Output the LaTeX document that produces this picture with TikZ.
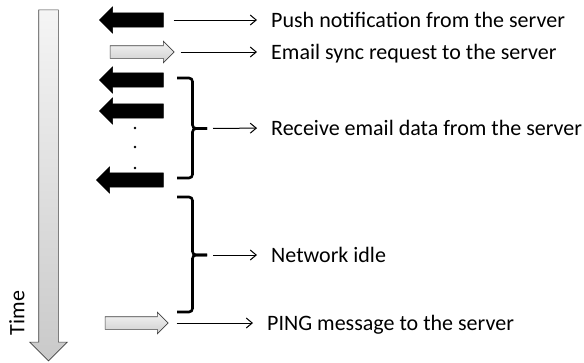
\documentclass[tikz,border=0pt]{standalone}
\usepackage{fontspec}
\setmainfont{Carlito}
\usetikzlibrary{shapes.arrows,arrows.meta}

\tikzset{
  fatin/.style={single arrow, shape border rotate=180, fill=black, draw=black,
    inner sep=7pt, single arrow head extend=6pt, minimum height=64pt},
  fatout/.style={single arrow, top color=gray!8, bottom color=gray!38, draw=black!75,
    line width=0.6pt, inner sep=6pt, single arrow head extend=4.5pt, minimum height=64pt},
  lbl/.style={anchor=west, inner sep=0pt, text height=14pt, text depth=0pt,
    font=\fontsize{22pt}{26pt}\selectfont},
  link/.style={-{Straight Barb[length=6pt,width=10pt]}, line width=1pt},
  bracket/.style={line width=2.6pt, rounded corners=3.5pt},
}

\begin{document}
\begin{tikzpicture}[x=1pt,y=-1pt]
\useasboundingbox (0,0) rectangle (584,362);

% time axis
\node[single arrow, shape border rotate=270, top color=gray!8, bottom color=gray!42,
  draw=black!75, line width=0.6pt, inner sep=9.5pt, single arrow head extend=9pt,
  minimum height=351pt] (time) at (48.5,180.5) {};
\node[rotate=90, inner sep=0pt, font=\fontsize{22pt}{26pt}\selectfont] (timelbl) at (17,313) {Time};

% packets
\node[fatin] (in1) at (135,20) {};
\node[fatout] (out1) at (139,52) {};
\node[fatin] (in2) at (135,80) {};
\node[fatin] (in3) at (135,111) {};
\node[fatin, minimum height=67pt] (in4) at (133.5,180) {};
\node[fatout, minimum height=63pt] (ping) at (133.5,323) {};
\foreach \y in {128,147,168}
  \fill (135,\y) circle (1.3pt);

% braces
\coordinate (rxtop) at (177,78);
\coordinate (rxbot) at (177,178);
\coordinate (rxtip) at (207,128.5);
\draw[bracket] (rxtop) -| (192.5,128.5) -- (rxtip);
\draw[bracket] (rxbot) -| (192.5,128.5) -- (rxtip);
\coordinate (idletop) at (177,197);
\coordinate (idlebot) at (177,312);
\coordinate (idletip) at (207,255);
\draw[bracket] (idletop) -| (192.5,255) -- (idletip);
\draw[bracket] (idlebot) -| (192.5,255) -- (idletip);

% labels
\node[lbl] (push) at (271,20) {Push notification from the server};
\node[lbl] (sync) at (271,52) {Email sync request to the server};
\node[lbl] (recv) at (271,128) {Receive email data from the server};
\node[lbl] (idle) at (271,255) {Network idle};
\node[lbl] (pingtxt) at (267,323) {PING message to the server};

\draw[link, shorten <=10pt, shorten >=14pt] (in1.tail) -- (push.west);
\draw[link, shorten <=6pt, shorten >=14pt] (out1.tip) -- (sync.west);
\draw[link, shorten <=6pt, shorten >=14pt] (rxtip) -- (recv.west);
\draw[link, shorten <=6pt, shorten >=14pt] (idletip) -- (idle.west);
\draw[link, shorten <=8pt, shorten >=14pt] (ping.tip) -- (pingtxt.west);
\end{tikzpicture}
\end{document}
